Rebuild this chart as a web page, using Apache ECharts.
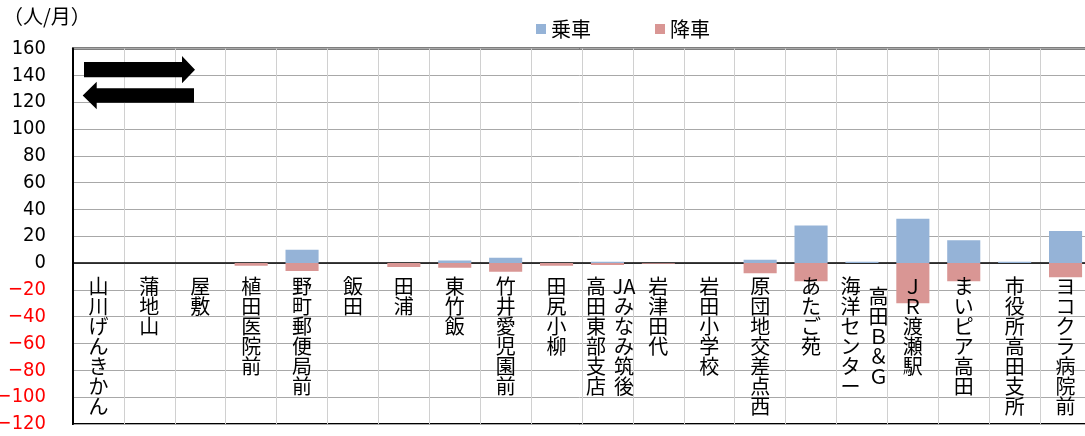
<!DOCTYPE html>
<html>
<head>
<meta charset="utf-8">
<script src="https://cdn.jsdelivr.net/npm/echarts@6/dist/echarts.min.js"></script>
<style>
html,body{margin:0;padding:0;background:#fff;}
#c{width:1085px;height:436px;}
</style>
</head>
<body>
<div id="c"></div>
<script>
// ---- data ----
const categories = ['山川げんきかん','蒲地山','屋敷','植田医院前','野町郵便局前','飯田','田浦','東竹飯','竹井愛児園前','田尻小柳',
  'JAみなみ筑後高田東部支店','岩津田代','岩田小学校','原団地交差点西','あたご苑','高田ＢＧ海洋センター','ＪＲ渡瀬駅','まいピア高田','市役所高田支所','ヨコクラ病院前'];
// how each name is written vertically: columns from left to right
const labelColumns = [['山川げんきかん'],['蒲地山'],['屋敷'],['植田医院前'],['野町郵便局前'],['飯田'],['田浦'],['東竹飯'],['竹井愛児園前'],['田尻小柳'],
  ['高田東部支店','JAみなみ筑後'],['岩津田代'],['岩田小学校'],['原団地交差点西'],['あたご苑'],['海洋センター','高田Ｂ＆Ｇ'],['ＪＲ渡瀬駅'],['まいピア高田'],['市役所高田支所'],['ヨコクラ病院前']];
// start offset (half lines) of each column
const labelOffsets = {10:[0,0], 15:[0,1]};
const boarding  = [0,0,0,0,10,0,0,2,4,0,1,0,0,2.5,28,1,33,17,1,24];
const alighting = [0,0,0,-2,-6,0,-3,-3.5,-6.5,-2,-1.5,-0.5,0,-7.5,-13.5,0,-30,-13.5,0,-10.5];
const seriesNames = ['乗車','降車'];
const yMin = -120, yMax = 160, yStep = 20;
const unitLabel = '（人/月）';

function units(s){
  const out=[]; let buf='';
  for (const ch of Array.from(s)){
    if (/[A-Za-z0-9]/.test(ch)) { buf+=ch; }
    else { if(buf){out.push(buf);buf='';} out.push(ch); }
  }
  if(buf) out.push(buf);
  return out;
}
function buildLabel(idx){
  const cols = labelColumns[idx];
  if (cols.length === 1) return units(cols[0]).map(u=>'{c|'+u+'}').join('\n');
  const offs = labelOffsets[idx] || cols.map(()=>0);
  const cu = cols.map(units);
  let n = 0;
  cu.forEach((u,k)=>{ n = Math.max(n, offs[k] + 2*u.length); });
  const lines = ['{sp| }'];
  for (let r=0;r<n;r++){
    const toks = cu.map((u,k)=>{
      const rr = r - offs[k];
      if (rr>=0 && rr%2===0 && rr/2<u.length) return '{h|'+u[rr/2]+'}';
      return '{h|\u3000}';
    });
    lines.push('{q| }' + toks.join('{g| }'));
  }
  return lines.join('\n');
}
const nz = a => a.map(v => v === 0 ? null : v);

const chart = echarts.init(document.getElementById('c'), null, {renderer:'canvas'});
const jp = "'Noto Sans CJK JP', sans-serif";
const numFont = "'Liberation Sans Narrow','DejaVu Sans Condensed','Roboto', sans-serif";
const GRID_BOTTOM = 12;
const labelAxis = {type:'category', data:categories, gridIndex:0, position:'bottom', offset:0, z:10,
    axisLine:{show:false, onZero:false}, axisTick:{show:false}, splitLine:{show:false},
    axisLabel:{interval:0, margin:13, color:'#000', fontFamily:jp, hideOverlap:false,
      formatter:(v,i)=>buildLabel(i),
      rich:{
        c:{fontSize:20, lineHeight:20, width:20, align:'center', fontFamily:jp, color:'#000'},
        h:{fontSize:20, lineHeight:10, width:19, align:'center', fontFamily:jp, color:'#000'},
        g:{fontSize:10, lineHeight:10, width:9},
        q:{fontSize:10, lineHeight:10, width:5},
        sp:{fontSize:5, lineHeight:5, width:1}
      }}};
chart.setOption({
  animation:false,
  backgroundColor:'#fff',
  title:{text:unitLabel, left:3, top:6, padding:0, textStyle:{fontSize:20, fontWeight:'normal', color:'#000', fontFamily:jp}},
  legend:{data:seriesNames, left:531, top:14, icon:'rect', itemWidth:10, itemHeight:10, itemGap:64,
    textStyle:{fontSize:20, color:'#000', fontFamily:jp}},
  grid:{left:73, width:1018, top:48.5, bottom:GRID_BOTTOM, show:true, borderColor:'#000', borderWidth:2, backgroundColor:'transparent',
    containLabel:false, outerBoundsMode:'none'},
  xAxis:[{type:'category', data:categories,
    axisLine:{onZero:true, lineStyle:{color:'#000', width:1.5}},
    axisTick:{show:false},
    splitLine:{show:true, interval:0, lineStyle:{color:'#d0d0d0', width:1}},
    axisLabel:{show:false}
  }, labelAxis],
  yAxis:{type:'value', min:yMin, max:yMax, interval:yStep,
    axisLine:{show:true, lineStyle:{color:'#000', width:2}},
    axisTick:{show:false},
    splitLine:{show:true, lineStyle:{color:'#a8a8a8', width:1}},
    axisLabel:{margin:27, fontSize:20, fontFamily:numFont, hideOverlap:false, showMinLabel:true, showMaxLabel:true,
      color:(v)=> (Number(v)<0 ? '#ff0000' : '#000000'),
      formatter:(v)=> v<0 ? '\u2212'+Math.abs(v) : String(v)}
  },
  series:[
    {name:seriesNames[0], type:'bar', stack:'s', data:nz(boarding), barWidth:'65%',
      itemStyle:{color:'#95b3d7'}},
    {name:seriesNames[1], type:'bar', stack:'s', data:nz(alighting), barWidth:'65%',
      itemStyle:{color:'#d99694'}}
  ],
  graphic:[
    {type:'polygon', z:100, shape:{points:[[84,62],[182,62],[182,56],[195,69.7],[182,83.3],[182,77.3],[84,77.3]]}, style:{fill:'#000'}},
    {type:'polygon', z:100, shape:{points:[[194,88.3],[96.7,88.3],[96.7,81.7],[82.7,95.5],[96.7,109.3],[96.7,102.7],[194,102.7]]}, style:{fill:'#000'}}
  ]
});
// move the label axis up to the zero line (computed through the value scale)
const zeroY = chart.convertToPixel({yAxisIndex:0}, 0);
const bottomY = chart.convertToPixel({yAxisIndex:0}, yMin);
chart.setOption({xAxis:[{}, {offset: zeroY - bottomY}]});
</script>
</body>
</html>
